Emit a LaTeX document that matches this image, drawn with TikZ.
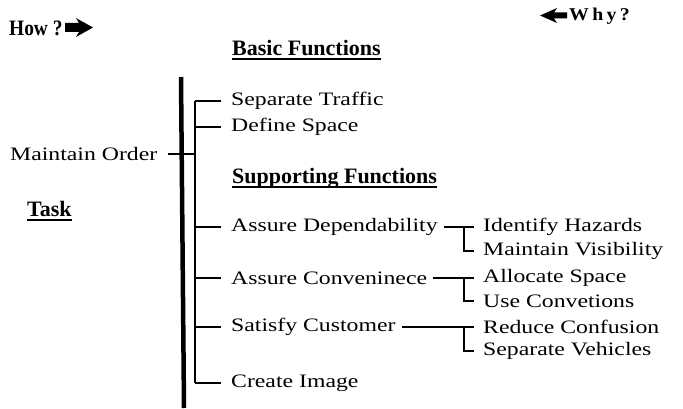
\documentclass[tikz,border=0pt]{standalone}
\usepackage{fontspec}
\setmainfont{Liberation Serif}
\usepackage{graphicx}
\usetikzlibrary{arrows.meta}
% horizontally widened text, as set in the printed chart
\newcommand\wtxt[1]{\scalebox{1.25}[1]{#1}}
\begin{document}
\begin{tikzpicture}[x=1pt,y=-1pt,
  txt/.style={inner sep=0pt, anchor=west, font=\fontsize{19}{22}\selectfont},
  head/.style={inner sep=0pt, anchor=west, font=\fontsize{22}{26}\selectfont\bfseries},
  bar/.style={line width=4.5pt},
  spine/.style={line width=1.4pt},
  link/.style={line width=1.4pt, shorten >=10pt},
  tee/.style={line width=1.4pt},
  ul/.style={line width=1.8pt},
  glyph/.style={fill=black}]
\useasboundingbox (0,0) rectangle (683,409);

% guide lines: main bar, function spine, sub-function tee column
\coordinate (bt) at (181,77);
\coordinate (bb) at (184,408);
\coordinate (sp) at (195,0);
\coordinate (tx) at (464,0);

% direction markers
\node[head] (how) at (9,28) {\scalebox{0.88}[1]{How ?}};
\fill[glyph] (65,23) -- (79,23) -- (76,18) -- (93,27.5) -- (76,37) -- (79,32) -- (65,32) -- cycle;
\node[head, font=\fontsize{18}{21}\selectfont\bfseries] (why) at (569,16) {\scalebox{1.1}[1]{W\,h\,y\,?}};
\fill[glyph] (567,12.5) -- (554,12.5) -- (557,8) -- (540,15.5) -- (557,23) -- (554,18.5) -- (567,18.5) -- cycle;

% headings
\node[head] (basic) at (232,48) {Basic Functions};
\node[head] (supp) at (232,178) {Supporting Functions};
\node[head] (task) at (27,209) {Task};
\foreach \h in {basic,supp,task}
  \draw[ul] ([yshift=-3.5pt]\h.base west) -- ([yshift=-3.5pt]\h.base east);

% task
\node[txt] (mo) at (10,154) {\wtxt{Maintain Order}};

% functions
\node[txt] (st) at (231,101) {\wtxt{Separate Traffic}};
\node[txt] (ds) at (231,127) {\wtxt{Define Space}};
\node[txt] (ad) at (231,227) {\wtxt{Assure Dependability}};
\node[txt] (ac) at (231,278) {\wtxt{Assure Conveninece}};
\node[txt] (sc) at (231,327) {\wtxt{Satisfy Customer}};
\node[txt] (ci) at (231,383) {\wtxt{Create Image}};

% sub-functions
\node[txt] (ih) at (483,227) {\wtxt{Identify Hazards}};
\node[txt] (mv) at (483,251) {\wtxt{Maintain Visibility}};
\node[txt] (as) at (483,278) {\wtxt{Allocate Space}};
\node[txt] (uc) at (483,301) {\wtxt{Use Convetions}};
\node[txt] (rc) at (483,327) {\wtxt{Reduce Confusion}};
\node[txt] (sv) at (483,351) {\wtxt{Separate Vehicles}};

% main bar and spine
\draw[bar] (bt) -- (bb);
\draw[spine] (sp |- st.west) -- (sp |- ci.west);
\draw[link, shorten >=0pt, shorten <=11pt] (mo.east) -- (mo.east -| sp);
\foreach \f in {st,ds,ad,ac,sc,ci}
  \draw[link] (sp |- \f.west) -- (\f.west);

% tees to sub-functions
\draw[tee, shorten <=6pt, shorten >=9pt] (ad.east) -- (ih.west);
\draw[tee, shorten >=9pt] (tx |- ih.west) |- (mv.west);
\draw[tee, shorten <=6pt, shorten >=9pt] (ac.east) -- (as.west);
\draw[tee, shorten >=9pt] (tx |- as.west) |- (uc.west);
\draw[tee, shorten <=6pt, shorten >=9pt] (sc.east) -- (rc.west);
\draw[tee, shorten >=9pt] (tx |- rc.west) |- (sv.west);
\end{tikzpicture}
\end{document}
